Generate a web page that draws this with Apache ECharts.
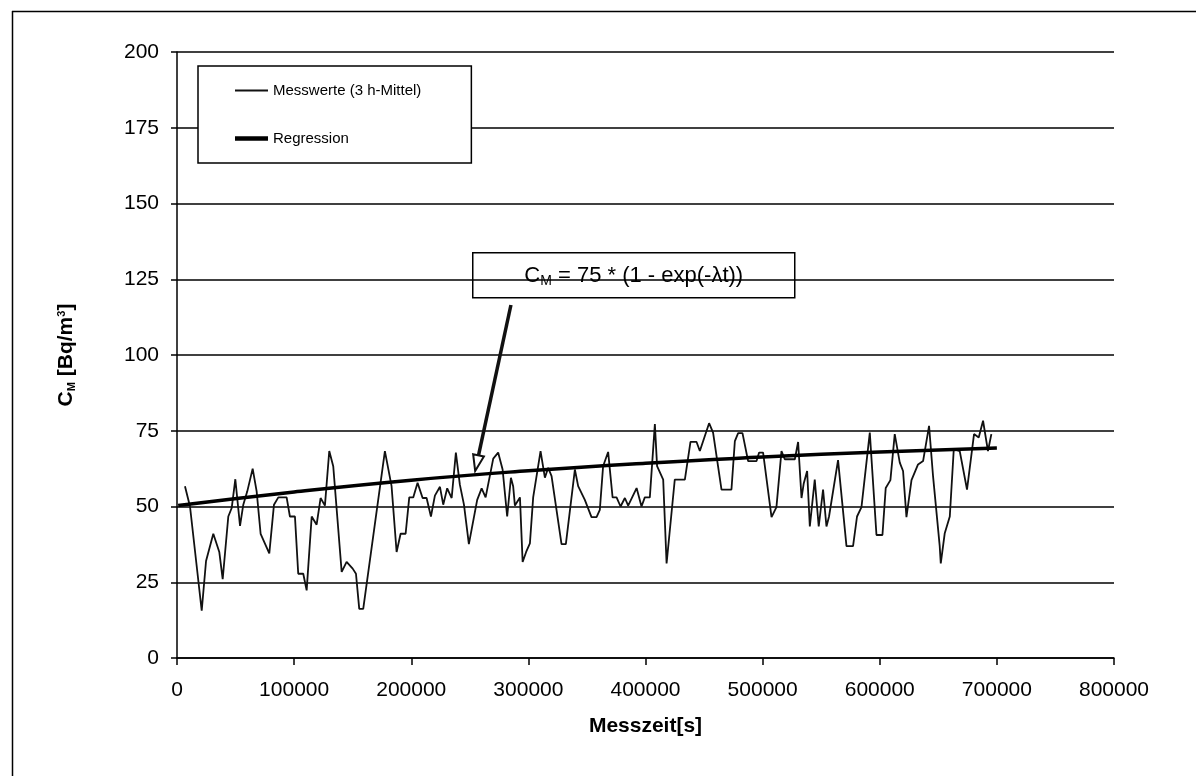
<!DOCTYPE html>
<html>
<head>
<meta charset="utf-8">
<script src="https://cdn.jsdelivr.net/npm/echarts@6/dist/echarts.min.js"></script>
<style>
html,body{margin:0;padding:0;background:#fff;}
#chart{width:1199px;height:784px;}
</style>
</head>
<body>
<div id="chart"></div>
<script>
// Measured values (3 h mean), time in seconds
const measX = [6800,11100,21100,24800,31000,36100,39000,43800,46700,49800,53800,56600,60000,64600,68000,71400,78800,82800,86500,93600,96400,100700,103500,107800,110700,115000,119200,122600,126300,130000,133400,140600,144800,150000,152800,155600,159000,177500,183200,187500,190900,195200,198300,201700,205400,209700,213100,216800,220200,224500,227300,230700,234500,238100,241500,245000,249200,256300,260100,263500,270000,274200,278000,281900,285100,287000,288500,292800,295100,298100,301300,304100,310400,314100,316900,319800,328300,332000,339700,342500,348200,353900,358200,361000,363800,368100,371900,375300,378700,382400,385200,392400,396600,399400,403700,408000,409900,415100,418000,425000,433600,438400,443600,446400,454300,457700,464900,473400,476300,479100,482800,487600,494800,497000,500400,507600,511800,516100,518900,527500,530300,533200,535100,538000,540300,544500,547900,551600,554500,556700,564400,571600,577200,580600,584400,591500,597200,602300,605100,609100,612800,617100,619900,622800,627100,632700,637000,642100,645500,651200,652100,655500,659800,663200,668300,674500,680500,684500,688200,692400,695300];
const measY = [56.7,50,15.6,32,41,35,26,46.7,49.5,59,43.6,50.6,55,62.5,55,41,34.5,50.6,53,53,46.7,46.7,27.8,27.8,22.3,46.7,44,52.8,50.3,68.3,63.3,28.4,31.7,29.5,27.8,16.2,16.2,68.3,56.7,35,41,41,53,53,57.8,52.8,52.8,46.7,53.6,56.5,50.6,56,52.8,67.8,57.2,50.6,37.6,52.2,56,53,65.8,67.8,62.2,46.7,59.5,56.7,50.3,53,31.7,35,37.8,53,68.3,59.5,62.8,60,37.6,37.6,62.2,56.7,52.2,46.5,46.5,48.9,63.3,68,53,53,50,52.8,50.3,56.1,50,53,53,77.2,63.3,58.9,31.2,58.9,58.9,71.3,71.3,68.3,77.5,74.4,55.6,55.6,71.6,74.2,74.2,65,65,67.8,67.8,46.5,49.8,68.3,65.6,65.6,71.3,52.8,57.6,61.7,43.4,58.9,43.4,55.6,43.4,46.7,65.3,36.9,36.9,46.7,49.8,74.4,40.6,40.6,56.1,58.7,73.9,64.5,61.7,46.5,58.7,63.9,65,76.6,60,36.9,31.2,41.2,46.7,68.9,68.3,55.6,73.9,72.8,78.3,68.3,73.9];
// Regression curve
const regX = [1000,100000,200000,300000,400000,500000,600000,700000];
const regY = [50.3,54.8,58.7,61.8,64.3,66.3,68.0,69.3];
// Arrow annotation (data coordinates)
const arrowFrom = [285100, 116.5];
const arrowTo = [256000, 64.3];

const FONT = '"Liberation Sans", Arial, sans-serif';
const zip = (a, b) => a.map((v, i) => [v, b[i]]);

const chart = echarts.init(document.getElementById('chart'), null, {renderer: 'canvas'});
chart.setOption({
  animation: false,
  backgroundColor: '#fff',
  textStyle: {fontFamily: FONT, color: '#000'},
  grid: {left: 177, right: 85, top: 52, bottom: 126, containLabel: false},
  legend: {
    left: 198, top: 66, orient: 'vertical',
    padding: [17, 50, 17, 37],
    itemGap: 33, itemWidth: 33, itemHeight: 14,
    borderColor: '#000', borderWidth: 1.5, backgroundColor: '#fff',
    textStyle: {fontFamily: FONT, fontSize: 15, color: '#000'},
    data: [{name: 'Messwerte (3 h-Mittel)', icon: 'path://M0,0 L10,0 L10,0.6 L0,0.6 Z'},
           {name: 'Regression', icon: 'path://M0,0 L10,0 L10,1.3 L0,1.3 Z'}]
  },
  xAxis: {
    type: 'value', min: 0, max: 800000, interval: 100000,
    name: 'Messzeit[s]', nameLocation: 'middle', nameGap: 58,
    nameTextStyle: {fontFamily: FONT, fontSize: 21, fontWeight: 'bold', color: '#000'},
    axisLine: {show: true, lineStyle: {color: '#000', width: 1.5}},
    axisTick: {show: true, inside: false, length: 7, lineStyle: {color: '#000', width: 1.5}},
    axisLabel: {fontFamily: FONT, fontSize: 21, color: '#000', margin: 22, formatter: v => String(v)},
    splitLine: {show: false}
  },
  yAxis: {
    type: 'value', min: 0, max: 200, interval: 25,
    name: '{a|C}{s|M}{a| [Bq/m}{u|3}{a|]}', nameLocation: 'middle', nameGap: 100, nameRotate: 90,
    nameTextStyle: {
      fontFamily: FONT, fontSize: 21, fontWeight: 'bold', color: '#000',
      rich: {
        a: {fontFamily: FONT, fontSize: 21, fontWeight: 'bold', color: '#000'},
        s: {fontFamily: FONT, fontSize: 11, fontWeight: 'bold', color: '#000', verticalAlign: 'bottom', padding: [8, 0, 0, 0]},
        u: {fontFamily: FONT, fontSize: 11, fontWeight: 'bold', color: '#000', verticalAlign: 'top', padding: [0, 0, 8, 0]}
      }
    },
    axisLine: {show: true, lineStyle: {color: '#000', width: 1.5}},
    axisTick: {show: true, inside: false, length: 6, lineStyle: {color: '#000', width: 1.5}},
    axisLabel: {fontFamily: FONT, fontSize: 21, color: '#000', margin: 18},
    splitLine: {show: true, lineStyle: {color: '#000', width: 1.5}}
  },
  series: [
    {
      name: 'Messwerte (3 h-Mittel)', type: 'line', data: zip(measX, measY),
      symbol: 'none', lineStyle: {color: '#111', width: 1.8}, itemStyle: {color: '#111'},
      z: 2,
      markLine: {
        silent: true, symbol: ['none', 'emptyTriangle'], symbolSize: [11, 16],
        lineStyle: {color: '#111', width: 3.5, type: 'solid'},
        label: {show: false},
        data: [[{coord: arrowFrom}, {coord: arrowTo}]]
      }
    },
    {
      name: 'Regression', type: 'line', data: zip(regX, regY), smooth: true,
      symbol: 'none', lineStyle: {color: '#000', width: 3.5}, itemStyle: {color: '#000'},
      z: 3
    }
  ],
  graphic: [
    {type: 'line', shape: {x1: 12, y1: 11.5, x2: 1196, y2: 11.5}, style: {stroke: '#000', lineWidth: 1.5}, z: 10},
    {type: 'line', shape: {x1: 12.5, y1: 11, x2: 12.5, y2: 776}, style: {stroke: '#000', lineWidth: 1.5}, z: 10},
    {
      type: 'group', left: 472, top: 252, z: 20,
      children: [
        {type: 'rect', shape: {x: 0, y: 0, width: 322, height: 45}, style: {fill: '#fff', stroke: '#000', lineWidth: 1.5}},
        {type: 'text', x: 161, y: 23,
          style: {
            text: '{a|C}{s|M}{a| = 75 * (1 - exp(-λt))}', align: 'center', verticalAlign: 'middle',
            rich: {
              a: {fontFamily: FONT, fontSize: 22, fill: '#000', color: '#000'},
              s: {fontFamily: FONT, fontSize: 14, fill: '#000', color: '#000', verticalAlign: 'bottom', padding: [10, 0, 0, 0]}
            }
          }
        }
      ]
    }
  ]
});
</script>
</body>
</html>
